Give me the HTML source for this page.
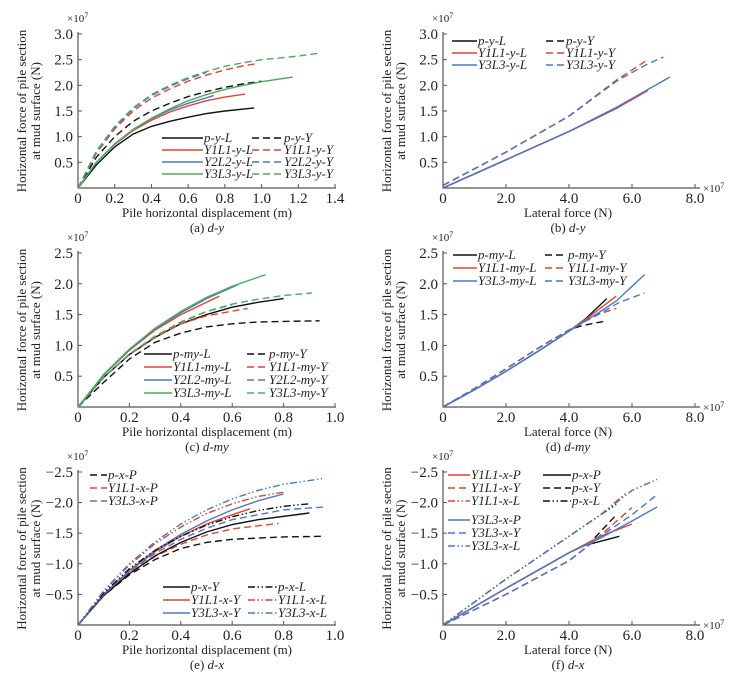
<!DOCTYPE html>
<html><head><meta charset="utf-8">
<style>
html,body{margin:0;padding:0;background:#fff;}
svg{display:block;font-family:"Liberation Serif",serif;}
</style></head>
<body>
<svg id="fig" width="741" height="680" viewBox="0 0 741 680" xmlns="http://www.w3.org/2000/svg"></svg>
<script>
// ---- Panel (a) d-y : x = displacement (m), y = force (1e7 N)
const a_pyL = [[0,0],[0.1,0.45],[0.2,0.8],[0.3,1.05],[0.4,1.2],[0.5,1.3],[0.6,1.38],[0.7,1.45],[0.8,1.5],[0.96,1.56]];
const a_pyY = [[0,0],[0.1,0.6],[0.2,1.0],[0.3,1.3],[0.4,1.5],[0.5,1.65],[0.6,1.78],[0.7,1.88],[0.8,1.96],[0.9,2.03],[1.0,2.08]];
const a_y1L = [[0,0],[0.1,0.5],[0.2,0.85],[0.3,1.12],[0.4,1.32],[0.5,1.48],[0.6,1.6],[0.7,1.7],[0.8,1.77],[0.91,1.83]];
const a_y1Y = [[0,0],[0.1,0.68],[0.2,1.15],[0.3,1.5],[0.4,1.75],[0.5,1.93],[0.6,2.08],[0.7,2.2],[0.8,2.3],[0.9,2.38],[0.97,2.42]];
const a_y2L = [[0,0],[0.1,0.5],[0.2,0.86],[0.3,1.14],[0.4,1.35],[0.5,1.52],[0.6,1.65],[0.74,1.8]];
const a_y2Y = [[0,0],[0.1,0.7],[0.2,1.18],[0.3,1.54],[0.4,1.8],[0.5,1.98],[0.6,2.13],[0.7,2.25]];
const a_y3L = [[0,0],[0.1,0.5],[0.2,0.86],[0.3,1.14],[0.4,1.36],[0.5,1.54],[0.6,1.7],[0.7,1.82],[0.8,1.92],[0.9,2.0],[1.0,2.07],[1.17,2.16]];
const a_y3Y = [[0,0],[0.1,0.72],[0.2,1.2],[0.3,1.56],[0.4,1.82],[0.5,2.0],[0.6,2.15],[0.7,2.27],[0.8,2.37],[0.9,2.44],[1.0,2.5],[1.2,2.57],[1.32,2.63]];
// ---- Panel (b) d-y : x = lateral force (1e7 N)
const b_pyL = [[0,0],[2,0.55],[4,1.1],[5.5,1.55],[6.4,1.87]];
const b_pyY = [[0,0.05],[2,0.7],[4,1.4],[5.5,2.08]];
const b_y1L = [[0,0],[2,0.55],[4,1.1],[5.5,1.55],[6.5,1.9]];
const b_y1Y = [[0,0.05],[2,0.7],[4,1.4],[5.5,2.1],[6.5,2.5]];
const b_y3L = [[0,0],[2,0.55],[4,1.1],[5.5,1.57],[7.2,2.16]];
const b_y3Y = [[0,0.05],[2,0.7],[4,1.4],[5.5,2.08],[6.5,2.42],[7.0,2.55]];
// ---- Panel (c) d-my
const c_pL = [[0,0],[0.1,0.48],[0.2,0.85],[0.3,1.13],[0.4,1.35],[0.5,1.5],[0.6,1.62],[0.7,1.7],[0.8,1.76]];
const c_pY = [[0,0],[0.1,0.4],[0.2,0.78],[0.3,1.05],[0.4,1.2],[0.5,1.3],[0.6,1.35],[0.7,1.38],[0.8,1.39],[0.94,1.4]];
const c_y1L = [[0,0],[0.1,0.52],[0.2,0.92],[0.3,1.25],[0.4,1.5],[0.55,1.8]];
const c_y1Y = [[0,0],[0.1,0.48],[0.2,0.85],[0.3,1.13],[0.4,1.35],[0.5,1.48],[0.66,1.6]];
const c_y2L = [[0,0],[0.1,0.52],[0.2,0.93],[0.3,1.27],[0.4,1.53],[0.5,1.76],[0.62,1.98]];
const c_y2Y = [[0,0],[0.1,0.48],[0.2,0.86],[0.3,1.15],[0.4,1.38],[0.5,1.55],[0.6,1.66]];
const c_y3L = [[0,0],[0.1,0.53],[0.2,0.94],[0.3,1.28],[0.4,1.55],[0.5,1.78],[0.6,1.96],[0.73,2.15]];
const c_y3Y = [[0,0],[0.1,0.48],[0.2,0.86],[0.3,1.15],[0.4,1.38],[0.5,1.55],[0.6,1.67],[0.7,1.75],[0.8,1.81],[0.91,1.85]];
// ---- Panel (d) d-my
const d_pL = [[0,0],[1,0.28],[2,0.58],[3,0.9],[4,1.23],[4.5,1.42],[5.2,1.76]];
const d_pY = [[0,0],[1,0.3],[2,0.62],[3,0.95],[4,1.25],[4.4,1.32],[5.2,1.4]];
const d_y1L = [[0,0],[1,0.28],[2,0.58],[3,0.9],[4,1.23],[4.6,1.45],[5.5,1.8]];
const d_y1Y = [[0,0],[1,0.3],[2,0.62],[3,0.95],[4,1.25],[4.8,1.48],[5.5,1.6]];
const d_y3L = [[0,0],[1,0.28],[2,0.58],[3,0.9],[4,1.23],[5,1.55],[5.5,1.72],[6.4,2.15]];
const d_y3Y = [[0,0],[1,0.3],[2,0.62],[3,0.95],[4,1.25],[5,1.52],[5.6,1.7],[6.4,1.85]];
// ---- Panel (e) d-x (magnitudes, axis labelled negative)
const e_pP = [[0,0],[0.1,0.48],[0.2,0.82],[0.3,1.07],[0.4,1.25],[0.5,1.35],[0.6,1.4],[0.8,1.44],[0.96,1.45]];
const e_y1P = [[0,0],[0.1,0.48],[0.2,0.84],[0.3,1.12],[0.4,1.32],[0.5,1.47],[0.6,1.57],[0.78,1.66]];
const e_y3P = [[0,0],[0.1,0.5],[0.2,0.87],[0.3,1.17],[0.4,1.4],[0.5,1.58],[0.6,1.72],[0.8,1.88],[0.96,1.93]];
const e_pY = [[0,0],[0.1,0.48],[0.2,0.84],[0.3,1.13],[0.4,1.35],[0.5,1.52],[0.6,1.64],[0.7,1.72],[0.9,1.83]];
const e_y1Y = [[0,0],[0.1,0.5],[0.2,0.88],[0.3,1.2],[0.4,1.45],[0.5,1.65],[0.6,1.8],[0.67,1.9]];
const e_y3Y = [[0,0],[0.1,0.5],[0.2,0.89],[0.3,1.22],[0.4,1.48],[0.5,1.7],[0.6,1.88],[0.7,2.03],[0.8,2.14]];
const e_pL = [[0,0],[0.1,0.52],[0.2,0.92],[0.3,1.22],[0.4,1.45],[0.5,1.63],[0.6,1.77],[0.7,1.87],[0.8,1.94],[0.9,1.98]];
const e_y1L = [[0,0],[0.1,0.55],[0.2,0.98],[0.3,1.33],[0.4,1.6],[0.5,1.82],[0.6,1.98],[0.7,2.1],[0.8,2.17]];
const e_y3L = [[0,0],[0.1,0.56],[0.2,1.0],[0.3,1.36],[0.4,1.65],[0.5,1.88],[0.6,2.06],[0.7,2.2],[0.8,2.3],[0.95,2.39]];
// ---- Panel (f) d-x
const f_pP = [[0,0],[2,0.6],[4,1.18],[4.5,1.3],[5.6,1.45]];
const f_pY = [[0,0],[2,0.5],[4,1.05],[4.5,1.25],[5.5,1.8]];
const f_pL = [[0,0],[2,0.75],[4,1.45],[5,1.8],[5.5,1.97]];
const f_y1P = [[0,0],[2,0.6],[4,1.18],[5,1.45],[6,1.65]];
const f_y1Y = [[0,0],[2,0.5],[4,1.05],[4.5,1.25],[5.3,1.6],[6,1.92]];
const f_y1L = [[0,0],[2,0.75],[4,1.45],[5,1.8],[5.8,2.15]];
const f_y3P = [[0,0],[2,0.6],[4,1.18],[5,1.42],[6,1.7],[6.8,1.93]];
const f_y3Y = [[0,0],[2,0.5],[4,1.05],[5,1.45],[6,1.8],[6.8,2.13]];
const f_y3L = [[0,0],[2,0.75],[4,1.45],[5,1.8],[6,2.2],[6.8,2.38]];

const dispTicks = [0,0.2,0.4,0.6,0.8,1.0,1.2,1.4];
const dispLabels = ["0","0.2","0.4","0.6","0.8","1.0","1.2","1.4"];
const forceTicks = [0,2,4,6,8];
const forceLabels = ["0","2.0","4.0","6.0","8.0"];
const yTicks3 = [0.5,1.0,1.5,2.0,2.5,3.0];
const yLabels3 = ["0.5","1.0","1.5","2.0","2.5","3.0"];
const yTicks25 = [0.5,1.0,1.5,2.0,2.5];
const yLabels25 = ["0.5","1.0","1.5","2.0","2.5"];
const yLabelsNeg = ["−0.5","−1.0","−1.5","−2.0","−2.5"];

const NS="http://www.w3.org/2000/svg";
const svg=document.getElementById('fig');
const K="#111", R="#e8412f", B="#4a78c8", G="#4bab5e";
const SOLID="", DASH="7,4", DD="7,2.5,1.5,2.5,1.5,2.5";

function mk(tag,attrs,parent){const e=document.createElementNS(NS,tag);for(const k in attrs)e.setAttribute(k,attrs[k]);(parent||svg).appendChild(e);return e;}
function txt(x,y,s,opts,parent){const t=mk('text',Object.assign({x:x,y:y,'font-size':opts.size||12,fill:'#222'},opts.attrs||{}),parent);t.textContent=s;return t;}

function panel(cfg){
  const g=mk('g',{});
  
  
  const sx=v=>cfg.ox+v*cfg.xs, sy=v=>cfg.oy-v*cfg.ys;
  const ax=mk('path',{d:`M${cfg.ox},${cfg.top-2}V${cfg.oy}H${cfg.xend}`,stroke:'#555','stroke-width':1.2,fill:'none'},g);
  
  
  cfg.yt.forEach((v,i)=>{
    mk('line',{x1:cfg.ox,x2:cfg.ox+4,y1:sy(v),y2:sy(v),stroke:'#555','stroke-width':1},g);
    const t=txt(cfg.ox-5,sy(v)+5,cfg.yl[i],{attrs:{'text-anchor':'end','font-size':15}},g);
    
    
  });
  cfg.xt.forEach((v,i)=>{
    if(v>0) mk('line',{x1:sx(v),x2:sx(v),y1:cfg.oy,y2:cfg.oy-4,stroke:'#555','stroke-width':1},g);
    const t=txt(sx(v),cfg.oy+15,cfg.xl[i],{attrs:{'text-anchor':'middle','font-size':15}},g);
    
    
  });
  const e1=txt(cfg.ox-11,cfg.top-12,'×10',{size:11},g);
  const s1=mk('tspan',{dy:-4,'font-size':8},e1);s1.textContent='7';
  
  
  if(cfg.xexp){
    const e2=txt(cfg.xend+3,cfg.oy+4,'×10',{size:11},g);
    const s2=mk('tspan',{dy:-4,'font-size':8},e2);s2.textContent='7';
    
    
  }
  const cy=(cfg.top+cfg.oy)/2;
  const t1=txt(0,0,'Horizontal force of pile section',{size:13,attrs:{'text-anchor':'middle',transform:`translate(${cfg.ox-52},${cy}) rotate(-90)`}},g);
  
  
  const t2=txt(0,0,'at mud surface (N)',{size:13,attrs:{'text-anchor':'middle',transform:`translate(${cfg.ox-38},${cy}) rotate(-90)`}},g);
  
  
  const xt=txt(cfg.titleX,cfg.oy+29,cfg.xtitle,{size:13,attrs:{'text-anchor':'middle'}},g);
  
  
  const cap=txt(cfg.titleX,cfg.oy+44,cfg.cap1,{size:13,attrs:{'text-anchor':'middle'}},g);
  const ci=mk('tspan',{'font-style':'italic'},cap);ci.textContent=cfg.cap2;
  
  
  cfg.series.forEach(s=>{
    const p=mk('polyline',{points:s.d.map(q=>sx(q[0]).toFixed(1)+','+sy(q[1]).toFixed(1)).join(' '),fill:'none',stroke:s.c,'stroke-width':1.4,'stroke-dasharray':s.dash},g);
    
    
  });
  cfg.leg.forEach(l=>{
    const lg=mk('g',{},g);
    
    
    mk('line',{x1:l.x1,x2:l.x2,y1:l.y-4,y2:l.y-4,stroke:l.c,'stroke-width':1.5,'stroke-dasharray':l.dash},lg);
    txt(l.x2+1,l.y,l.t,{size:13,attrs:{'font-style':'italic'}},lg);
  });
}
function L(x1,x2,y,c,dash,t){return {x1,x2,y,c,dash,t};}

panel({name:'panel-a',ox:78,oy:188,top:34,xs:257/1.4,ys:154/3,xend:336,xt:dispTicks,xl:dispLabels,yt:yTicks3,yl:yLabels3,xexp:false,titleX:207,xtitle:'Pile horizontal displacement (m)',cap1:'(a) ',cap2:'d-y',
 series:[{n:'p-y-L',d:a_pyL,c:K,dash:SOLID},{n:'p-y-Y',d:a_pyY,c:K,dash:DASH},{n:'Y1L1-y-L',d:a_y1L,c:R,dash:SOLID},{n:'Y1L1-y-Y',d:a_y1Y,c:R,dash:DASH},{n:'Y2L2-y-L',d:a_y2L,c:B,dash:SOLID},{n:'Y2L2-y-Y',d:a_y2Y,c:B,dash:DASH},{n:'Y3L3-y-L',d:a_y3L,c:G,dash:SOLID},{n:'Y3L3-y-Y',d:a_y3Y,c:G,dash:DASH}],
 leg:[L(162,203,142,K,SOLID,'p-y-L'),L(162,203,154,R,SOLID,'Y1L1-y-L'),L(162,203,166,B,SOLID,'Y2L2-y-L'),L(162,203,178,G,SOLID,'Y3L3-y-L'),
      L(252,283,142,K,DASH,'p-y-Y'),L(252,283,154,R,DASH,'Y1L1-y-Y'),L(252,283,166,B,DASH,'Y2L2-y-Y'),L(252,283,178,G,DASH,'Y3L3-y-Y')]});

panel({name:'panel-b',ox:443,oy:188,top:34,xs:252/8,ys:154/3,xend:700,xt:forceTicks,xl:forceLabels,yt:yTicks3,yl:yLabels3,xexp:true,titleX:568,xtitle:'Lateral force (N)',cap1:'(b) ',cap2:'d-y',
 series:[{n:'p-y-L',d:b_pyL,c:K,dash:SOLID},{n:'p-y-Y',d:b_pyY,c:K,dash:DASH},{n:'Y1L1-y-L',d:b_y1L,c:R,dash:SOLID},{n:'Y1L1-y-Y',d:b_y1Y,c:R,dash:DASH},{n:'Y3L3-y-L',d:b_y3L,c:B,dash:SOLID},{n:'Y3L3-y-Y',d:b_y3Y,c:B,dash:DASH}],
 leg:[L(452,477,45,K,SOLID,'p-y-L'),L(452,477,57,R,SOLID,'Y1L1-y-L'),L(452,477,69,B,SOLID,'Y3L3-y-L'),
      L(546,565,45,K,DASH,'p-y-Y'),L(546,565,57,R,DASH,'Y1L1-y-Y'),L(546,565,69,B,DASH,'Y3L3-y-Y')]});

panel({name:'panel-c',ox:78,oy:407,top:253,xs:257,ys:154/2.5,xend:336,xt:dispTicks.slice(0,6),xl:dispLabels.slice(0,6),yt:yTicks25,yl:yLabels25,xexp:false,titleX:207,xtitle:'Pile horizontal displacement (m)',cap1:'(c) ',cap2:'d-my',
 series:[{n:'p-my-L',d:c_pL,c:K,dash:SOLID},{n:'p-my-Y',d:c_pY,c:K,dash:DASH},{n:'Y1L1-my-L',d:c_y1L,c:R,dash:SOLID},{n:'Y1L1-my-Y',d:c_y1Y,c:R,dash:DASH},{n:'Y2L2-my-L',d:c_y2L,c:B,dash:SOLID},{n:'Y2L2-my-Y',d:c_y2Y,c:B,dash:DASH},{n:'Y3L3-my-L',d:c_y3L,c:G,dash:SOLID},{n:'Y3L3-my-Y',d:c_y3Y,c:G,dash:DASH}],
 leg:[L(144,172,358,K,SOLID,'p-my-L'),L(144,172,371,R,SOLID,'Y1L1-my-L'),L(144,172,384,B,SOLID,'Y2L2-my-L'),L(144,172,397,G,SOLID,'Y3L3-my-L'),
      L(247,268,358,K,DASH,'p-my-Y'),L(247,268,371,R,DASH,'Y1L1-my-Y'),L(247,268,384,B,DASH,'Y2L2-my-Y'),L(247,268,397,G,DASH,'Y3L3-my-Y')]});

panel({name:'panel-d',ox:443,oy:407,top:253,xs:252/8,ys:154/2.5,xend:700,xt:forceTicks,xl:forceLabels,yt:yTicks25,yl:yLabels25,xexp:true,titleX:568,xtitle:'Lateral force (N)',cap1:'(d) ',cap2:'d-my',
 series:[{n:'p-my-L',d:d_pL,c:K,dash:SOLID},{n:'p-my-Y',d:d_pY,c:K,dash:DASH},{n:'Y1L1-my-L',d:d_y1L,c:R,dash:SOLID},{n:'Y1L1-my-Y',d:d_y1Y,c:R,dash:DASH},{n:'Y3L3-my-L',d:d_y3L,c:B,dash:SOLID},{n:'Y3L3-my-Y',d:d_y3Y,c:B,dash:DASH}],
 leg:[L(453,477,259,K,SOLID,'p-my-L'),L(453,477,272,R,SOLID,'Y1L1-my-L'),L(453,477,285,B,SOLID,'Y3L3-my-L'),
      L(545,567,259,K,DASH,'p-my-Y'),L(545,567,272,R,DASH,'Y1L1-my-Y'),L(545,567,285,B,DASH,'Y3L3-my-Y')]});

panel({name:'panel-e',ox:78,oy:625,top:472,xs:257,ys:153/2.5,xend:336,xt:dispTicks.slice(0,6),xl:dispLabels.slice(0,6),yt:yTicks25,yl:yLabelsNeg,xexp:false,titleX:207,xtitle:'Pile horizontal displacement (m)',cap1:'(e) ',cap2:'d-x',
 series:[{n:'p-x-P',d:e_pP,c:K,dash:DASH},{n:'Y1L1-x-P',d:e_y1P,c:R,dash:DASH},{n:'Y3L3-x-P',d:e_y3P,c:B,dash:DASH},{n:'p-x-Y',d:e_pY,c:K,dash:SOLID},{n:'Y1L1-x-Y',d:e_y1Y,c:R,dash:SOLID},{n:'Y3L3-x-Y',d:e_y3Y,c:B,dash:SOLID},{n:'p-x-L',d:e_pL,c:K,dash:DD},{n:'Y1L1-x-L',d:e_y1L,c:R,dash:DD},{n:'Y3L3-x-L',d:e_y3L,c:B,dash:DD}],
 leg:[L(90,107,479,K,DASH,'p-x-P'),L(90,107,492,R,DASH,'Y1L1-x-P'),L(90,107,505,B,DASH,'Y3L3-x-P'),
      L(163,190,591,K,SOLID,'p-x-Y'),L(163,190,604,R,SOLID,'Y1L1-x-Y'),L(163,190,617,B,SOLID,'Y3L3-x-Y'),
      L(248,277,591,K,DD,'p-x-L'),L(248,277,604,R,DD,'Y1L1-x-L'),L(248,277,617,B,DD,'Y3L3-x-L')]});

panel({name:'panel-f',ox:443,oy:625,top:472,xs:252/8,ys:153/2.5,xend:700,xt:forceTicks,xl:forceLabels,yt:yTicks25,yl:yLabelsNeg,xexp:true,titleX:568,xtitle:'Lateral force (N)',cap1:'(f) ',cap2:'d-x',
 series:[{n:'p-x-P',d:f_pP,c:K,dash:SOLID},{n:'p-x-Y',d:f_pY,c:K,dash:DASH},{n:'p-x-L',d:f_pL,c:K,dash:DD},{n:'Y1L1-x-P',d:f_y1P,c:R,dash:SOLID},{n:'Y1L1-x-Y',d:f_y1Y,c:R,dash:DASH},{n:'Y1L1-x-L',d:f_y1L,c:R,dash:DD},{n:'Y3L3-x-P',d:f_y3P,c:B,dash:SOLID},{n:'Y3L3-x-Y',d:f_y3Y,c:B,dash:DASH},{n:'Y3L3-x-L',d:f_y3L,c:B,dash:DD}],
 leg:[L(448,470,479,R,SOLID,'Y1L1-x-P'),L(448,470,492,R,DASH,'Y1L1-x-Y'),L(448,470,505,R,DD,'Y1L1-x-L'),
      L(448,470,524,B,SOLID,'Y3L3-x-P'),L(448,470,537,B,DASH,'Y3L3-x-Y'),L(448,470,550,B,DD,'Y3L3-x-L'),
      L(543,571,479,K,SOLID,'p-x-P'),L(543,571,492,K,DASH,'p-x-Y'),L(543,571,505,K,DD,'p-x-L')]});
</script>
</body></html>
